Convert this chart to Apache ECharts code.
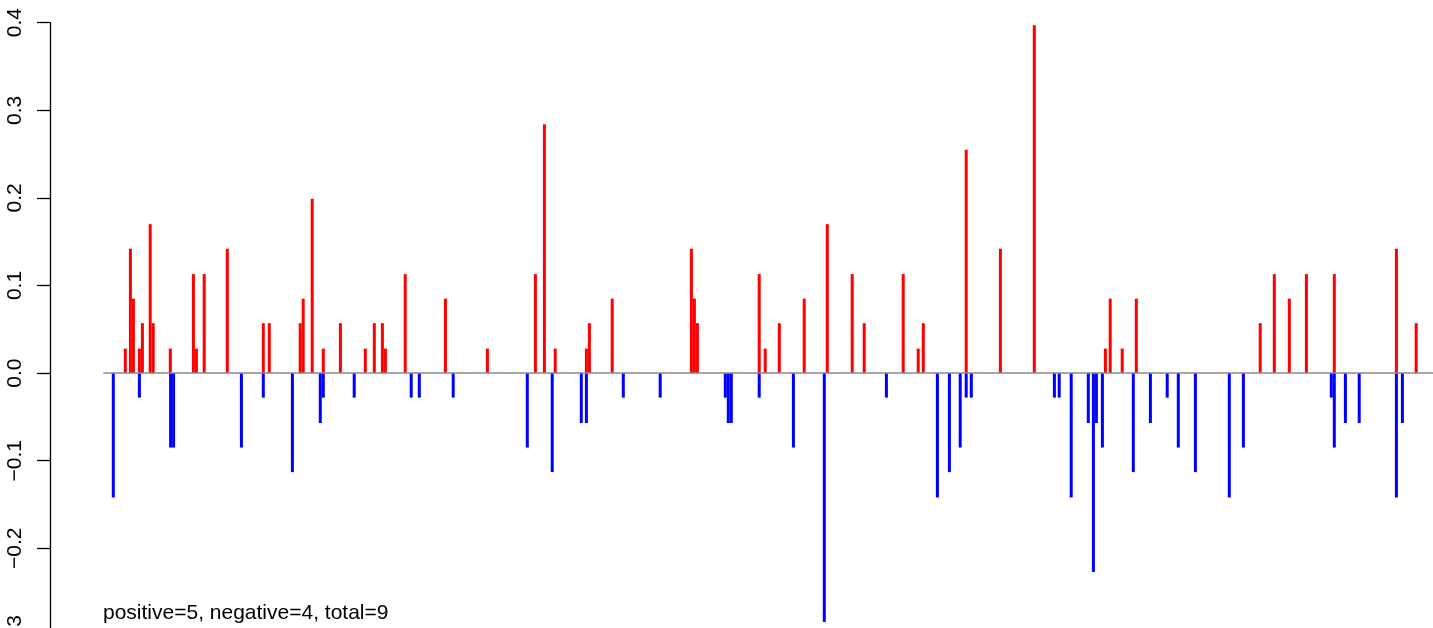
<!DOCTYPE html>
<html>
<head>
<meta charset="utf-8">
<script src="https://cdn.jsdelivr.net/npm/echarts@6/dist/echarts.min.js"></script>
<style>
html,body{margin:0;padding:0;background:#fff;}
#c{width:1433px;height:628px;}
</style>
</head>
<body>
<div id="c"></div>
<script>
// x positions (arbitrary position units) and values
const posX = [25.1,26.8,27.8,29.8,30.8,33.4,34.4,40.1,47.8,48.8,51.4,59.1,71.1,73.1,83.4,84.4,87.4,91.1,96.8,105.1,108.1,110.8,111.8,118.4,131.8,145.8,161.8,164.8,168.4,178.8,179.8,187.4,213.8,214.8,215.8,236.4,238.4,243.1,251.4,259.1,267.4,271.4,284.4,289.4,291.1,305.4,316.8,328.1,351.8,353.4,357.4,362.1,403.4,408.1,413.1,418.8,428.1,448.8,455.4];
const posY = [0.028,0.142,0.085,0.028,0.057,0.170,0.057,0.028,0.113,0.028,0.113,0.142,0.057,0.057,0.057,0.085,0.199,0.028,0.057,0.028,0.057,0.057,0.028,0.113,0.085,0.028,0.113,0.284,0.028,0.028,0.057,0.085,0.142,0.085,0.057,0.113,0.028,0.057,0.085,0.170,0.113,0.057,0.113,0.028,0.057,0.255,0.142,0.397,0.028,0.085,0.028,0.085,0.057,0.113,0.085,0.113,0.113,0.142,0.057];
const negX = [21.1,29.8,40.2,41.2,63.8,71.1,80.8,90.1,91.1,101.4,120.4,123.1,134.4,159.1,167.4,177.1,178.8,191.1,203.4,225.1,226.1,227.1,236.4,247.8,258.1,278.8,295.8,299.8,303.4,305.4,307.1,334.8,336.4,340.4,346.1,347.8,348.8,350.8,361.1,366.8,372.4,376.1,381.8,393.1,397.8,427.1,428.1,431.8,436.4,448.8,450.8];
const negY = [-0.142,-0.028,-0.085,-0.085,-0.085,-0.028,-0.113,-0.057,-0.028,-0.028,-0.028,-0.028,-0.028,-0.085,-0.113,-0.057,-0.057,-0.028,-0.028,-0.028,-0.057,-0.057,-0.028,-0.085,-0.284,-0.028,-0.142,-0.113,-0.085,-0.028,-0.028,-0.028,-0.028,-0.142,-0.057,-0.227,-0.057,-0.085,-0.113,-0.057,-0.028,-0.085,-0.113,-0.142,-0.085,-0.028,-0.085,-0.057,-0.057,-0.142,-0.057];
const zeroLineX = [17.8, 461];
const yTicks = [-0.3,-0.2,-0.1,0.0,0.1,0.2,0.3,0.4];
const noteText = 'positive=5, negative=4, total=9';

const chart = echarts.init(document.getElementById('c'), null, {renderer:'canvas'});
const FONT = 'Liberation Sans, Arial, Helvetica, sans-serif';
chart.setOption({
  backgroundColor:'#ffffff',
  animation:false,
  grid:{left:50, top:22.7, width:1383, height:613.2, containLabel:false, outerBoundsMode:'none'},
  xAxis:{type:'value', min:0, max:461, show:false},
  yAxis:{
    type:'value', min:yTicks[0], max:yTicks[yTicks.length-1], interval:0.1,
    axisLine:{show:true, lineStyle:{color:'#000', width:1.3}},
    axisTick:{show:true, length:13, lineStyle:{color:'#000', width:1.3}},
    splitLine:{show:false},
    axisLabel:{rotate:90, margin:24, color:'#000', fontSize:21, fontFamily:FONT,
      formatter:v=>{const s=Math.abs(v).toFixed(1); return (v< -1e-9?'\u2212':'')+s;}}
  },
  series:[
    {type:'bar', name:'pos', data:posX.map((x,i)=>[x,posY[i]]), barWidth:3, barGap:'-100%',
     itemStyle:{color:'#ff0000'}, z:2},
    {type:'bar', name:'neg', data:negX.map((x,i)=>[x,negY[i]]), barWidth:3, barGap:'-100%',
     itemStyle:{color:'#0000ff'}, z:2},
    {type:'line', name:'zero', data:[[zeroLineX[0],0],[zeroLineX[1],0]], symbol:'none',
     lineStyle:{color:'#8a8a8a', width:1.5}, z:3, silent:true}
  ],
  graphic:[
    {type:'text', left:103, top:603, style:{text:noteText, font:'21px '+FONT, fill:'#000'}}
  ]
});
</script>
</body>
</html>
